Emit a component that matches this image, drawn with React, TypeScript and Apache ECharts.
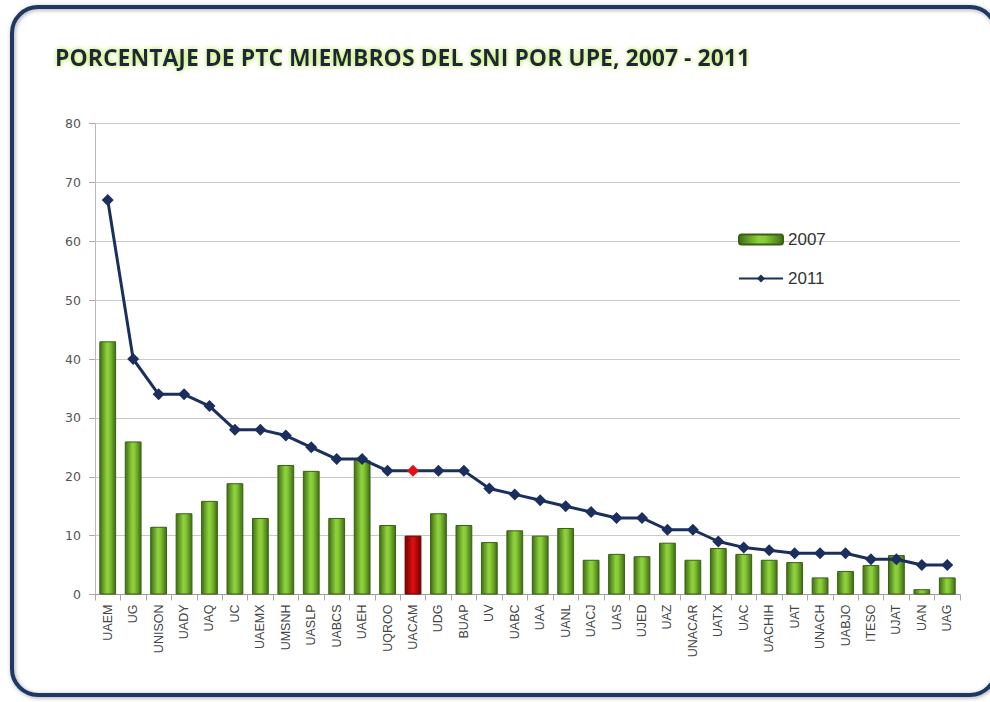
import React, { useEffect, useRef } from "react";
import * as echarts from "echarts";

const categories = [
  "UAEM", "UG", "UNISON", "UADY", "UAQ", "UC", "UAEMX", "UMSNH", "UASLP", "UABCS",
  "UAEH", "UQROO", "UACAM", "UDG", "BUAP", "UV", "UABC", "UAA", "UANL", "UACJ",
  "UAS", "UJED", "UAZ", "UNACAR", "UATX", "UAC", "UACHIH", "UAT", "UNACH", "UABJO",
  "ITESO", "UJAT", "UAN", "UAG",
];

const values2007 = [
  43, 26, 11.5, 13.8, 15.9, 18.9, 13, 22, 21, 13,
  22.8, 11.8, 10, 13.8, 11.8, 8.9, 10.9, 10, 11.3, 5.9,
  6.9, 6.5, 8.8, 5.9, 7.9, 6.9, 5.9, 5.5, 2.9, 4,
  5, 6.7, 0.9, 2.9,
];

const values2011 = [
  67, 40, 34, 34, 32, 28, 28, 27, 25, 23,
  23, 21, 21, 21, 21, 18, 17, 16, 15, 14,
  13, 13, 11, 11, 9, 8, 7.5, 7, 7, 7,
  6, 6, 5, 5,
];

const highlighted = "UACAM";
const yTicks = { min: 0, max: 80, interval: 10 };

const TITLE = "PORCENTAJE DE PTC MIEMBROS DEL SNI POR UPE, 2007 - 2011";

export default function App() {
  const ref = useRef<HTMLDivElement>(null);

  useEffect(() => {
    if (!ref.current) return;
    const chart = echarts.init(ref.current, undefined, { renderer: "svg" });

    const greenGrad = new echarts.graphic.LinearGradient(0, 0, 1, 0, [
      { offset: 0, color: "#3f6e14" },
      { offset: 0.45, color: "#8fd23e" },
      { offset: 0.6, color: "#86c936" },
      { offset: 1, color: "#3f6e14" },
    ]);
    const redGrad = new echarts.graphic.LinearGradient(0, 0, 1, 0, [
      { offset: 0, color: "#7a0000" },
      { offset: 0.5, color: "#e01010" },
      { offset: 1, color: "#7a0000" },
    ]);

    const barData = values2007.map((v, i) =>
      categories[i] === highlighted
        ? { value: v, itemStyle: { color: redGrad, borderColor: "#600000" } }
        : v
    );
    const lineData = values2011.map((v, i) =>
      categories[i] === highlighted
        ? { value: v, itemStyle: { color: "#e0101a" } }
        : v
    );

    chart.setOption({
      animation: false,
      backgroundColor: "#ffffff",
      title: {
        text: TITLE,
        left: 50,
        top: 40,
        textStyle: {
          fontFamily: "'Open Sans', sans-serif",
          fontSize: 23,
          fontWeight: "bold",
          color: "#1a2540",
          textShadowColor: "#b8e832",
          textShadowBlur: 5,
        },
      },
      graphic: [
        {
          type: "rect",
          shape: { x: 12, y: 7, width: 984, height: 688, r: 26 },
          style: {
            fill: "none",
            stroke: "#1f3864",
            lineWidth: 4,
            shadowBlur: 4,
            shadowColor: "rgba(0,0,0,0.35)",
            shadowOffsetX: 1,
            shadowOffsetY: 1,
          },
          z: 0,
        },
        {
          type: "line",
          shape: { x1: 53, y1: 82, x2: 755, y2: 82 },
          style: {
            stroke: "#1f3864",
            lineWidth: 4,
            shadowBlur: 3,
            shadowColor: "rgba(0,0,0,0.4)",
            shadowOffsetY: 2,
          },
        },
      ],
      legend: {
        orient: "vertical",
        left: 733,
        top: 226,
        itemGap: 22,
        itemWidth: 44,
        itemHeight: 10,
        textStyle: {
          fontFamily: "'Liberation Sans', sans-serif",
          fontSize: 17,
          color: "#333",
        },
        data: ["2007", "2011"],
      },
      grid: { left: 95, right: 30, top: 123.5, bottom: 107.5, containLabel: false },
      xAxis: {
        type: "category",
        data: categories,
        boundaryGap: true,
        axisLine: { lineStyle: { color: "#999", width: 1 } },
        axisTick: { show: true, alignWithLabel: false, length: 6, lineStyle: { color: "#aaa" } },
        axisLabel: {
          rotate: 90,
          interval: 0,
          margin: 10,
          fontFamily: "'Liberation Sans', sans-serif",
          fontSize: 12.5,
          color: "#444",
        },
      },
      yAxis: {
        type: "value",
        min: yTicks.min,
        max: yTicks.max,
        interval: yTicks.interval,
        axisLine: { show: true, lineStyle: { color: "#bbb" } },
        axisTick: { show: true, length: 6, lineStyle: { color: "#aaa" } },
        splitLine: { lineStyle: { color: "#c9c9c9", width: 1 } },
        axisLabel: {
          margin: 14,
          fontFamily: "'DejaVu Sans', sans-serif",
          fontSize: 12.5,
          color: "#555",
        },
      },
      series: [
        {
          name: "2007",
          type: "bar",
          data: barData,
          barWidth: "66%",
          itemStyle: { color: greenGrad, borderColor: "#3a6012", borderWidth: 1 },
          z: 2,
        },
        {
          name: "2011",
          type: "line",
          data: lineData,
          symbol: "diamond",
          symbolSize: 12,
          lineStyle: { color: "#1b2f5e", width: 3 },
          itemStyle: { color: "#1b2f5e" },
          z: 3,
        },
      ],
    });

    return () => chart.dispose();
  }, []);

  return (
    <div
      ref={ref}
      style={{ position: "fixed", left: 0, top: 0, width: 990, height: 702 }}
    />
  );
}
